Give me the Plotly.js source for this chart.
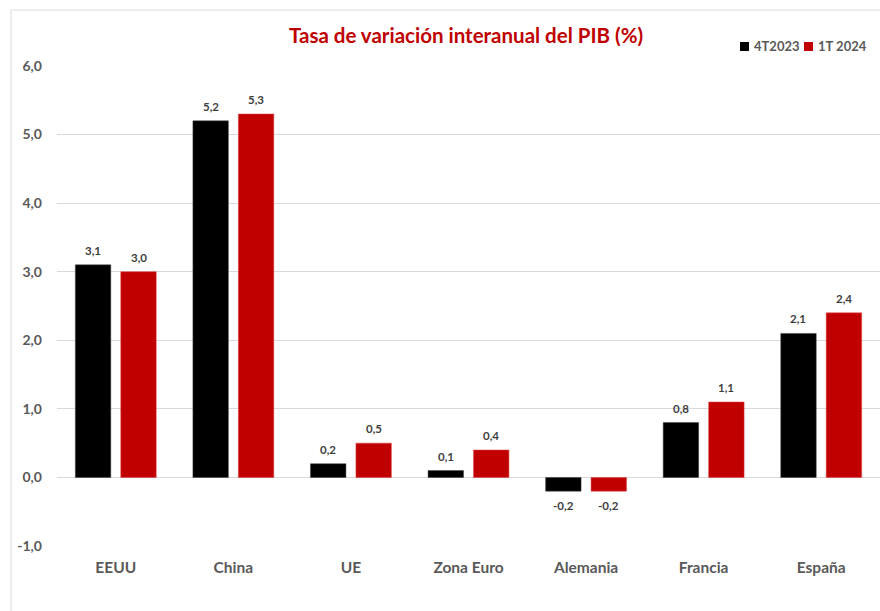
<!DOCTYPE html>
<html>
<head>
<meta charset="utf-8">
<script src="https://cdn.plot.ly/plotly-3.0.1.min.js"></script>
<style>html,body{margin:0;padding:0;background:#fff;}#chart{width:880px;height:611px;}</style>
</head>
<body>
<div id="chart"></div>
<script>
const categories = ["EEUU", "China", "UE", "Zona Euro", "Alemania", "Francia", "España"];
const q4_2023 = [3.1, 5.2, 0.2, 0.1, -0.2, 0.8, 2.1];
const q1_2024 = [3.0, 5.3, 0.5, 0.4, -0.2, 1.1, 2.4];
const seriesNames = ["4T2023", "1T 2024"];
const seriesColors = ["#000000", "#C00000"];
const yTickVals = [-1, 0, 1, 2, 3, 4, 5, 6];
const yTickText = ["-1,0", "0,0", "1,0", "2,0", "3,0", "4,0", "5,0", "6,0"];

const fmt = v => v.toFixed(1).replace('.', ',');
const FONT = "Lato, 'Open Sans', sans-serif";
const labelFont = {family: FONT, size: 11.5, color: '#404040', weight: 'bold'};

const traces = [
  {type: 'bar', name: seriesNames[0], x: categories, y: q4_2023,
   marker: {color: seriesColors[0], line: {color: '#404040', width: 0.5}},
   hoverinfo: 'none', showlegend: false},
  {type: 'bar', name: seriesNames[1], x: categories, y: q1_2024,
   marker: {color: seriesColors[1], line: {color: '#E04040', width: 0.5}},
   hoverinfo: 'none', showlegend: false}
];

// data labels via annotations anchored to data coordinates
const annotations = [];
const series = [q4_2023, q1_2024];
const offsets = [-22.75, 22.75];
series.forEach((vals, s) => {
  vals.forEach((v, i) => {
    annotations.push({
      x: categories[i], y: v, xref: 'x', yref: 'y',
      text: fmt(v), showarrow: false, font: labelFont,
      xshift: offsets[s], xanchor: 'center',
      yanchor: v >= 0 ? 'bottom' : 'top', yshift: v >= 0 ? 6 : -6
    });
  });
});

// custom legend (text + squares)
const legendX = [753, 817];
const legendY = 46;
const W = 880, H = 611, L = 57, R = 0, T = 66, B = 65;
const px2x = p => (p - L) / (W - L - R);
const py2y = p => 1 - (p - T) / (H - T - B);
const shapes = [{type: 'rect', xref: 'paper', yref: 'paper',
  x0: px2x(11), x1: 1.2, y0: -0.3, y1: py2y(10),
  line: {color: '#d9d9d9', width: 1}, fillcolor: 'rgba(0,0,0,0)', layer: 'below'}];
seriesNames.forEach((n, s) => {
  annotations.push({xref: 'paper', yref: 'paper', x: px2x(legendX[s]), y: py2y(legendY),
    xanchor: 'left', yanchor: 'middle', text: n, showarrow: false, borderpad: 0,
    font: {family: FONT, size: 13, color: '#595959', weight: 'bold'}});
  shapes.push({type: 'rect', xref: 'paper', yref: 'paper',
    x0: px2x(legendX[s] - 13), x1: px2x(legendX[s] - 4),
    y0: py2y(legendY + 5), y1: py2y(legendY - 4),
    fillcolor: seriesColors[s], line: {width: 0}});
});

const layout = {
  width: W, height: H,
  margin: {l: L, r: R, t: T, b: B},
  paper_bgcolor: '#ffffff', plot_bgcolor: '#ffffff',
  barmode: 'group', bargap: 0.227, bargroupgap: 0.22,
  font: {family: FONT},
  title: {text: 'Tasa de variación interanual del PIB (%)',
    font: {family: FONT, size: 20.5, color: '#C00000', weight: 'bold'},
    x: 0.497, xanchor: 'center', xref: 'paper', y: 0.941, yanchor: 'middle'},
  showlegend: false,
  xaxis: {type: 'category', showgrid: false, showline: false, zeroline: false,
    ticks: '', ticklabelstandoff: 10,
    tickfont: {family: FONT, size: 15.5, color: '#595959', weight: 'bold'}},
  yaxis: {range: [-1, 6], tickvals: yTickVals, ticktext: yTickText,
    showgrid: true, gridcolor: '#d9d9d9', gridwidth: 1, zeroline: false,
    showline: false, ticks: '', ticklabelstandoff: 14,
    tickfont: {family: FONT, size: 14, color: '#595959', weight: 'bold'}},
  annotations: annotations,
  shapes: shapes
};

Plotly.newPlot('chart', traces, layout, {displayModeBar: false, staticPlot: true});
</script>
</body>
</html>
